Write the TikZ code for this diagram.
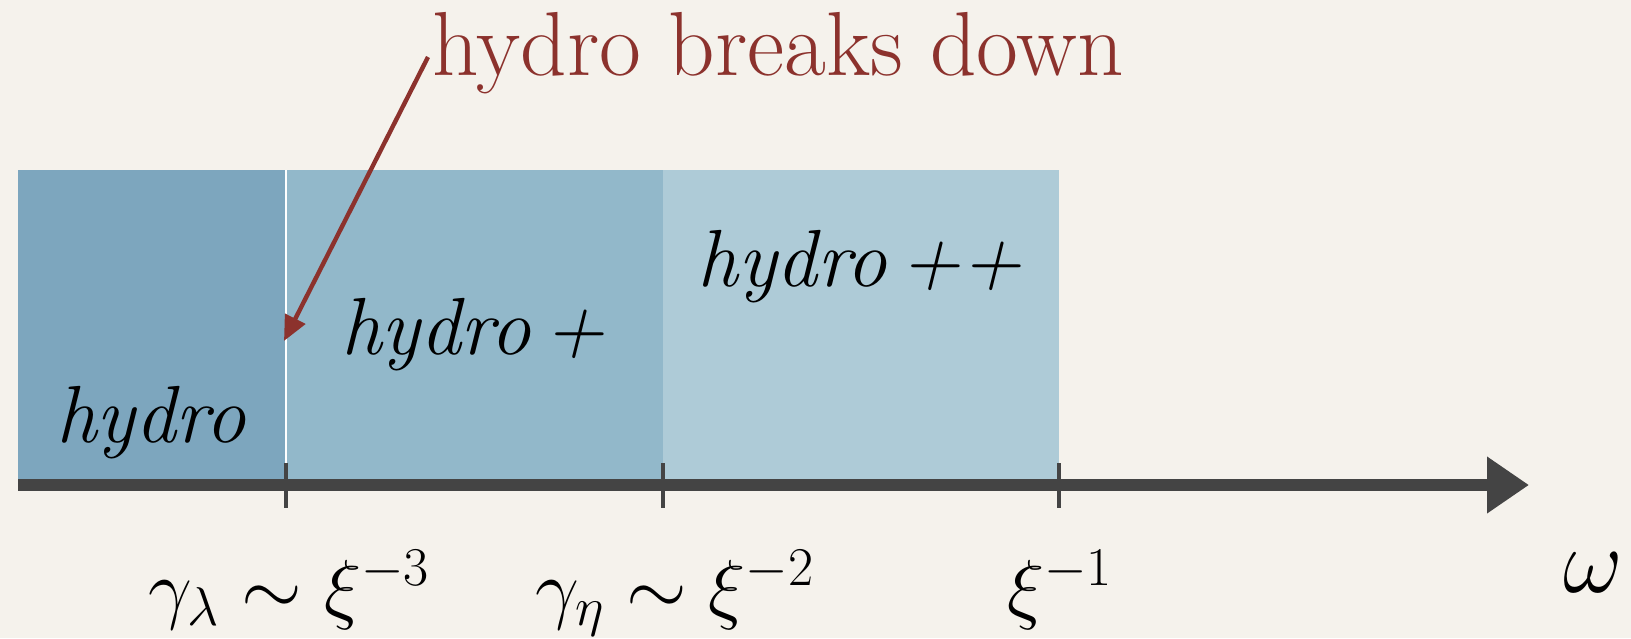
\RequirePackage{fix-cm}
\documentclass[tikz,border=0pt]{standalone}
\usetikzlibrary{arrows.meta}
\definecolor{bg}{RGB}{245,242,236}
\definecolor{regA}{RGB}{125,166,190}
\definecolor{regB}{RGB}{146,184,202}
\definecolor{regC}{RGB}{174,203,215}
\definecolor{axisgray}{RGB}{68,68,68}
\definecolor{darkred}{RGB}{140,50,45}
\begin{document}
\begin{tikzpicture}[x=0.5pt,y=-0.5pt,
  lbl/.style={inner sep=0pt,anchor=base,font=\fontsize{40.5}{46}\selectfont\itshape},
  mlbl/.style={inner sep=0pt,anchor=base,font=\fontsize{39}{45}\selectfont},
  tickline/.style={line width=2.4pt,draw=axisgray},
  axisline/.style={line width=6pt,draw=axisgray,-{Triangle[length=21pt,width=27pt]}},
  redarrow/.style={line width=2.2pt,draw=darkred,-{Triangle[length=12.5pt,width=11pt]}}
]
\useasboundingbox (0,0) rectangle (1631,638);
\fill[bg] (0,0) rectangle (1631,638);
% regions
\fill[regA] (18,170) rectangle (286,481);
\fill[regB] (286,170) rectangle (663,481);
\fill[regC] (663,170) rectangle (1059,481);
\draw[white,line width=0.8pt] (286,170) -- (286,481);
% axis
\coordinate (a0) at (18,485);
\coordinate (a1) at (1529,485);
\draw[axisline] (a0) -- (a1);
% ticks
\coordinate (t1a) at (286,463); \coordinate (t1b) at (286,508);
\coordinate (t2a) at (663,463); \coordinate (t2b) at (663,508);
\coordinate (t3a) at (1059,463); \coordinate (t3b) at (1059,508);
\draw[tickline] (t1a) -- (t1b);
\draw[tickline] (t2a) -- (t2b);
\draw[tickline] (t3a) -- (t3b);
% region labels
\node[lbl] (h0) at (151,442) {hydro};
\node[lbl] (h1) at (473,354) {hydro\,+};
\node[lbl] (h2) at (860,286) {hydro\,++};
% red annotation
\node[inner sep=0pt,anchor=base west,text=darkred,font=\fontsize{45.5}{52}\selectfont] (hb) at (432,75) {hydro breaks down};
\coordinate (as) at (428,57);
\coordinate (ae) at (284,341);
\draw[redarrow] (as) -- (ae);
% axis labels
\node[mlbl] (l1) at (289,614) {$\gamma_\lambda \sim \xi^{-3}$};
\node[mlbl] (l2) at (675,614) {$\gamma_\eta \sim \xi^{-2}$};
\node[mlbl] (l3) at (1060,614) {$\xi^{-1}$};
\node[inner sep=0pt,anchor=base,font=\fontsize{46}{52}\selectfont] (w) at (1593,592) {$\omega$};
\end{tikzpicture}
\end{document}
